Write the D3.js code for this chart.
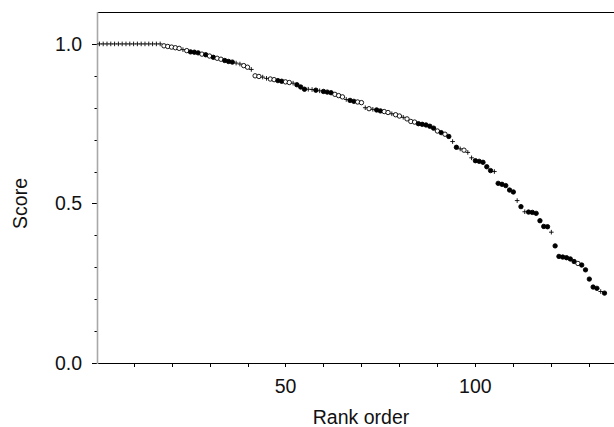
<!DOCTYPE html>
<html>
<head>
<meta charset="utf-8">
<script src="https://cdn.jsdelivr.net/npm/d3@7"></script>
<style>
  body { margin: 0; background: #fff; }
  text { font-family: "Liberation Sans", Arial, Helvetica, sans-serif; fill: #111; }
</style>
</head>
<body>
<div id="chart"></div>
<script>
// score of each item, in rank order (rank = index + 1)
var scores = [
  1, 1, 1, 1, 1, 1, 1, 1, 1, 1, 1, 1, 1, 1, 1, 1, 1,
  0.994, 0.992, 0.99, 0.988, 0.986, 0.982, 0.979, 0.975, 0.974, 0.972,
  0.968, 0.966, 0.962, 0.958, 0.955, 0.952, 0.948, 0.945, 0.943, 0.94, 0.937, 0.932, 0.927, 0.92,
  0.9, 0.898, 0.896, 0.892, 0.89, 0.888, 0.885, 0.883, 0.881, 0.879, 0.877, 0.872, 0.865,
  0.858, 0.858, 0.857, 0.855, 0.853, 0.851, 0.849, 0.847, 0.842, 0.838, 0.834,
  0.826, 0.823, 0.82, 0.818, 0.816,
  0.8, 0.797, 0.795, 0.793, 0.79, 0.788, 0.785, 0.781, 0.778, 0.774, 0.77, 0.765,
  0.757, 0.755, 0.75, 0.748, 0.746, 0.742, 0.736, 0.727, 0.722, 0.717, 0.71, 0.694,
  0.676, 0.671, 0.667, 0.66, 0.643, 0.634, 0.632, 0.629, 0.615, 0.603, 0.6,
  0.563, 0.56, 0.556, 0.542, 0.536, 0.509, 0.49, 0.474, 0.473, 0.472, 0.469,
  0.446, 0.428, 0.427, 0.41, 0.367, 0.334, 0.332, 0.33, 0.326,
  0.318, 0.312, 0.307, 0.292, 0.263, 0.238, 0.234, 0.224, 0.219
];
// marker per item: p = plus, o = open circle, f = filled circle
var markers = (
  "ppppppppppppppppp" +
  "ooooopofff" +
  "ofofoofffppoop" +
  "ooppooffoopff" +
  "fppfpfffooo" +
  "pffoo" +
  "popffoopoopo" +
  "oofffffofofp" +
  "fpoppfffffp" +
  "fffffpfpfff" +
  "fffpffff" +
  "ffofffffpf"
).split("");
var xTicks = [10, 20, 30, 40, 50, 60, 70, 80, 90, 100, 110, 120, 130];
var xLabels = [50, 100];
var yTicks = [0, 0.1, 0.2, 0.3, 0.4, 0.5, 0.6, 0.7, 0.8, 0.9, 1.0];
var yLabels = [0, 0.5, 1.0];

var W = 614, H = 427;
var svg = d3.select("#chart").append("svg")
    .attr("width", W)
    .attr("height", H);

var x = d3.scaleLinear().domain([0.5, 136.5]).range([97.5, 614]);
var y = d3.scaleLinear().domain([0, 1.1]).range([363, 12]);

var data = scores.map(function(s, i) {
    return {rank: i + 1, score: s, kind: markers[i]};
});

// top frame line
svg.append("line")
    .attr("x1", x(0.5)).attr("x2", W)
    .attr("y1", y(1.1) + 0.5).attr("y2", y(1.1) + 0.5)
    .attr("stroke", "#000").attr("stroke-width", 1);

// y ticks, longer at labelled values
svg.selectAll(".ytick")
    .data(yTicks)
    .enter().append("line")
    .attr("class", "ytick")
    .attr("x1", function(d) { return yLabels.indexOf(d) >= 0 ? 92 : 94.5; })
    .attr("x2", 97.5)
    .attr("y1", function(d) { return Math.round(y(d)) + 0.5; })
    .attr("y2", function(d) { return Math.round(y(d)) + 0.5; })
    .attr("stroke", "#000");

svg.selectAll(".ylab")
    .data(yLabels)
    .enter().append("text")
    .attr("class", "ylab")
    .attr("x", 82)
    .attr("y", function(d) { return y(d) + 7; })
    .attr("text-anchor", "end")
    .style("font-size", "19.5px")
    .text(function(d) { return d3.format(".1f")(d); });

// x ticks
svg.selectAll(".xtick")
    .data(xTicks)
    .enter().append("line")
    .attr("class", "xtick")
    .attr("x1", function(d) { return Math.round(x(d)) + 0.5; })
    .attr("x2", function(d) { return Math.round(x(d)) + 0.5; })
    .attr("y1", 363)
    .attr("y2", 367)
    .attr("stroke", "#000");

svg.selectAll(".xlab")
    .data(xLabels)
    .enter().append("text")
    .attr("class", "xlab")
    .attr("x", function(d) { return x(d); })
    .attr("y", 393)
    .attr("text-anchor", "middle")
    .style("font-size", "19.5px")
    .text(function(d) { return d; });

svg.append("line")
    .attr("x1", 97).attr("x2", W)
    .attr("y1", 363.5).attr("y2", 363.5)
    .attr("stroke", "#000");

svg.append("line")
    .attr("x1", 97.5).attr("x2", 97.5)
    .attr("y1", y(1.1)).attr("y2", 364)
    .attr("stroke", "#a8a8a8").attr("stroke-width", 1.6);

// axis titles
svg.append("text")
    .attr("x", 361)
    .attr("y", 424)
    .attr("text-anchor", "middle")
    .style("font-size", "19.5px")
    .text("Rank order");

svg.append("text")
    .attr("transform", "translate(27," + y(0.5) + ") rotate(-90)")
    .attr("text-anchor", "middle")
    .style("font-size", "19.5px")
    .text("Score");

// points
var pts = svg.append("g");
pts.selectAll(".circ")
    .data(data.filter(function(d) { return d.kind !== "p"; }))
    .enter().append("circle")
    .attr("class", "circ")
    .attr("cx", function(d) { return x(d.rank); })
    .attr("cy", function(d) { return y(d.score); })
    .attr("r", 2.2)
    .attr("fill", function(d) { return d.kind === "f" ? "#000" : "#fff"; })
    .attr("stroke", "#000")
    .attr("stroke-width", 0.9);

pts.selectAll(".plus")
    .data(data.filter(function(d) { return d.kind === "p"; }))
    .enter().append("path")
    .attr("class", "plus")
    .attr("d", function(d) {
        var cx = x(d.rank), cy = y(d.score), s = 2.3;
        return "M" + (cx - s) + "," + cy + "H" + (cx + s) +
               "M" + cx + "," + (cy - s) + "V" + (cy + s);
    })
    .attr("stroke", "#000")
    .attr("stroke-width", 0.9)
    .attr("fill", "none");
</script>
</body>
</html>
